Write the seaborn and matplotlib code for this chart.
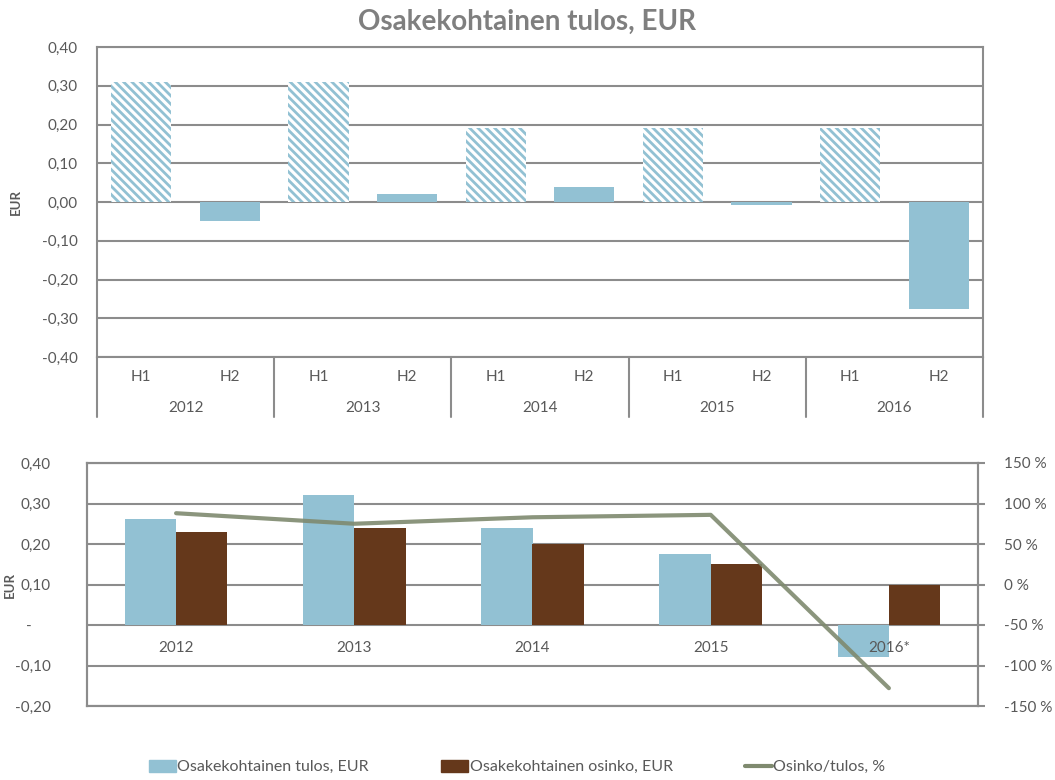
import matplotlib
matplotlib.use('Agg')
import matplotlib.pyplot as plt
import numpy as np
import pandas as pd
import seaborn as sns

# top chart: EPS per half year
years_half = ['2012', '2013', '2014', '2015', '2016']
halves = ['H1', 'H2']
eps_h1 = [0.31, 0.31, 0.19, 0.19, 0.19]
eps_h2 = [-0.05, 0.02, 0.04, -0.008, -0.275]

# bottom chart: yearly EPS, dividend and payout ratio
years = ['2012', '2013', '2014', '2015', '2016*']
eps_year = [0.262, 0.322, 0.24, 0.175, -0.08]
dividend = [0.23, 0.24, 0.20, 0.15, 0.10]
payout_pct = [88, 75, 83, 86, -128]

top_ticks = [0.4, 0.3, 0.2, 0.1, 0.0, -0.1, -0.2, -0.3, -0.4]
bottom_ticks = [0.4, 0.3, 0.2, 0.1, 0.0, -0.1, -0.2]
pct_ticks = [150, 100, 50, 0, -50, -100, -150]

BLUE = '#92c1d3'
BROWN = '#65381b'
LINE = '#7f8a6f'
GRID = '#8c8c8c'
TXT = '#595959'
FS = 11

sns.set_theme(style='white')
plt.rcParams['font.family'] = ['Lato', 'DejaVu Sans']
plt.rcParams['hatch.linewidth'] = 2.0
plt.rcParams['hatch.color'] = BLUE


def fmt(v):
    return f'{v:.2f}'.replace('.', ',')


fig = plt.figure(figsize=(10.55, 7.8), dpi=100)

# ---------------- top chart ----------------
ax1 = fig.add_axes([97 / 1055, 1 - 357 / 780, 886 / 1055, 310 / 780])
rows = []
for y, a, b in zip(years_half, eps_h1, eps_h2):
    rows.append({'period': f'{y} H1', 'half': 'H1', 'eps': a})
    rows.append({'period': f'{y} H2', 'half': 'H2', 'eps': b})
df_top = pd.DataFrame(rows)
sns.barplot(data=df_top, x='period', y='eps', hue='half', dodge=False,
            palette={'H1': 'white', 'H2': BLUE}, width=0.68, legend=False,
            saturation=1, ax=ax1, zorder=2)
for p in ax1.containers[0]:
    p.set_facecolor('white')
    p.set_edgecolor(BLUE)
    p.set_linewidth(0)
    p.set_hatch('\\' * 4)
for p in ax1.containers[1]:
    p.set_linewidth(0)

ax1.set_ylim(-0.4, 0.4)
ax1.set_xlim(-0.5, len(df_top) - 0.5)
ax1.set_yticks(top_ticks)
ax1.set_yticklabels([fmt(v) for v in top_ticks], color=TXT, fontsize=FS)
ax1.tick_params(axis='y', length=0, pad=14)
ax1.set_xticks([])
ax1.set_xlabel('')
ax1.set_ylabel('EUR', fontsize=9.5, fontweight='bold', color=TXT)
ax1.yaxis.set_label_coords(-0.085, 0.5)
for v in top_ticks:
    ax1.axhline(v, color=GRID, lw=1.5, zorder=1)
for s in ax1.spines.values():
    s.set_color(GRID)
    s.set_linewidth(1.5)

# multi-level category axis
tr = ax1.get_xaxis_transform()
depth = -60 / 310
for i in range(len(years_half) + 1):
    xe = 2 * i - 0.5
    ax1.plot([xe, xe], [0, depth], transform=tr, color=GRID, lw=1.5, clip_on=False)
for i, y in enumerate(years_half):
    for j, h in enumerate(halves):
        ax1.text(2 * i + j, -20 / 310, h, transform=tr, ha='center', va='center',
                 fontsize=FS, color=TXT)
    ax1.text(2 * i + 0.5, -51 / 310, y, transform=tr, ha='center', va='center',
             fontsize=FS, color=TXT)

fig.text(0.5, 1 - 22 / 780, 'Osakekohtainen tulos, EUR', ha='center', va='center',
         fontsize=20, fontweight='bold', color='#7f7f7f')

# ---------------- bottom chart ----------------
ax2 = fig.add_axes([87 / 1055, 1 - 706 / 780, 891 / 1055, 243 / 780])
s1 = 'Osakekohtainen tulos, EUR'
s2 = 'Osakekohtainen osinko, EUR'
s3 = 'Osinko/tulos, %'
df_bot = pd.DataFrame({
    'year': years * 2,
    'series': [s1] * len(years) + [s2] * len(years),
    'value': eps_year + dividend,
})
sns.barplot(data=df_bot, x='year', y='value', hue='series',
            palette={s1: BLUE, s2: BROWN}, width=0.575, saturation=1,
            legend=False, ax=ax2, zorder=2)
for p in ax2.patches:
    p.set_linewidth(0)

ax2.set_ylim(-0.2, 0.4)
ax2.set_xlim(-0.5, len(years) - 0.5)
ax2.set_yticks(bottom_ticks)
ax2.set_yticklabels([fmt(v) if v != 0 else '-     ' for v in bottom_ticks],
                    color=TXT, fontsize=FS)
ax2.tick_params(axis='y', length=0, pad=26)
ax2.set_xticks([])
ax2.set_xlabel('')
ax2.set_ylabel('EUR', fontsize=9.5, fontweight='bold', color=TXT)
ax2.yaxis.set_label_coords(-0.08, 0.5)
for v in bottom_ticks:
    ax2.axhline(v, color=GRID, lw=1.5, zorder=1)
for name, s in ax2.spines.items():
    s.set_color(GRID)
    s.set_linewidth(1.5)
for i, y in enumerate(years):
    ax2.text(i, -0.058, y, ha='center', va='center', fontsize=FS, color=TXT, zorder=4)

ax3 = ax2.twinx()
sns.lineplot(x=np.arange(len(years)), y=payout_pct, color=LINE, lw=3, alpha=0.9,
             ax=ax3, zorder=5)
ax3.set_ylim(-150, 150)
ax3.set_yticks(pct_ticks)
ax3.set_yticklabels([f'{v} %' for v in pct_ticks], color=TXT, fontsize=FS)
ax3.tick_params(axis='y', length=5, width=1.5, color=GRID, pad=14, right=True)
for s in ax3.spines.values():
    s.set_color(GRID)
    s.set_linewidth(1.5)
ax3.set_xlim(-0.5, len(years) - 0.5)

# legend
handles = [
    matplotlib.patches.Patch(color=BLUE, label=s1),
    matplotlib.patches.Patch(color=BROWN, label=s2),
    matplotlib.lines.Line2D([], [], color=LINE, lw=3, label=s3),
]
leg = fig.legend(handles=handles, loc='center', bbox_to_anchor=(0.49, 1 - 767 / 780),
                 ncol=3, frameon=False, fontsize=11.5, handlelength=1.7,
                 handleheight=0.8, handletextpad=0.1, columnspacing=4.5)
for t in leg.get_texts():
    t.set_color(TXT)

fig.savefig('out.png', dpi=100)
